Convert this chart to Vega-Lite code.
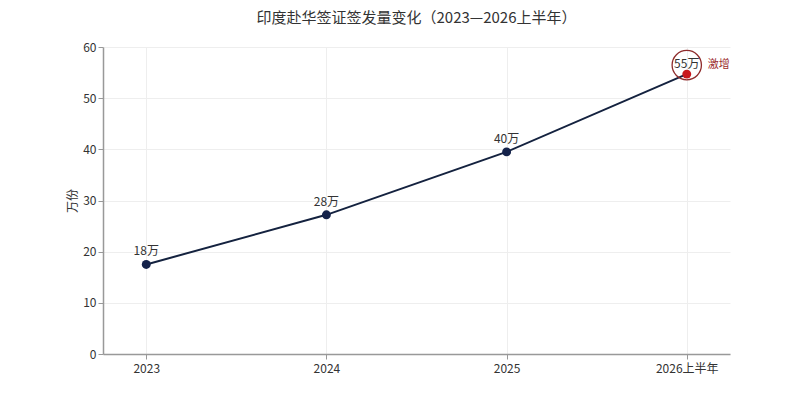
{
  "$schema": "https://vega.github.io/schema/vega-lite/v6.json",
  "autosize": "none",
  "width": 627,
  "height": 307,
  "padding": {"left": 103, "top": 47, "right": 70, "bottom": 53},
  "background": "#ffffff",
  "config": {
    "font": "Noto Sans CJK SC",
    "view": {"stroke": null}
  },
  "title": {
    "text": "印度赴华签证签发量变化（2023—2026上半年）",
    "fontSize": 15,
    "fontWeight": "normal",
    "color": "#333333",
    "offset": 15
  },
  "data": {
    "values": [
      {"period": "2023", "value": 17.5, "label": "18万", "hot": false},
      {"period": "2024", "value": 27.2, "label": "28万", "hot": false},
      {"period": "2025", "value": 39.5, "label": "40万", "hot": false},
      {"period": "2026上半年", "value": 54.7, "label": "55万", "hot": true}
    ]
  },
  "encoding": {
    "x": {
      "field": "period",
      "type": "ordinal",
      "sort": null,
      "scale": {"type": "point", "padding": 0.24},
      "axis": {
        "title": null,
        "labelAngle": 0,
        "labelFontSize": 12,
        "labelColor": "#333333",
        "labelPadding": 4,
        "domainColor": "#999999",
        "domainWidth": 1.5,
        "tickColor": "#999999",
        "tickSize": 5,
        "grid": true,
        "gridColor": "#eeeeee"
      }
    },
    "y": {
      "field": "value",
      "type": "quantitative",
      "scale": {"domain": [0, 60]},
      "axis": {
        "title": "万份",
        "titleFontSize": 12,
        "titleFontWeight": "normal",
        "titleColor": "#333333",
        "titlePadding": 3,
        "values": [0, 10, 20, 30, 40, 50, 60],
        "labelFontSize": 12,
        "labelColor": "#333333",
        "domainColor": "#999999",
        "domainWidth": 1.5,
        "tickColor": "#999999",
        "tickSize": 5,
        "gridColor": "#eeeeee"
      }
    }
  },
  "layer": [
    {
      "mark": {"type": "line", "color": "#14223f", "strokeWidth": 2}
    },
    {
      "mark": {"type": "point", "filled": true, "opacity": 1, "size": 80},
      "encoding": {
        "color": {
          "field": "hot",
          "type": "nominal",
          "scale": {"domain": [false, true], "range": ["#14224a", "#c8191e"]},
          "legend": null
        }
      }
    },
    {
      "transform": [{"filter": "!datum.hot"}],
      "mark": {"type": "text", "dy": -13, "fontSize": 12, "color": "#333333"},
      "encoding": {"text": {"field": "label"}}
    },
    {
      "transform": [{"filter": "datum.hot"}],
      "mark": {"type": "text", "dy": -10, "fontSize": 12, "color": "#333333"},
      "encoding": {"text": {"field": "label"}}
    },
    {
      "transform": [{"filter": "datum.hot"}],
      "mark": {"type": "point", "filled": false, "size": 860, "stroke": "#8e2b2b", "strokeWidth": 1.3, "opacity": 1, "yOffset": -9}
    },
    {
      "transform": [{"filter": "datum.hot"}],
      "mark": {"type": "text", "align": "left", "dx": 21, "dy": -9, "fontSize": 11, "color": "#9b2d2d"},
      "encoding": {"text": {"value": "激增"}}
    }
  ]
}
